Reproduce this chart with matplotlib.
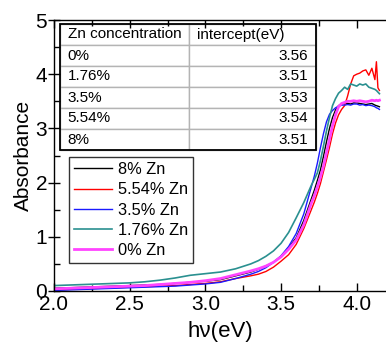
import matplotlib
matplotlib.use("Agg")
import matplotlib.pyplot as plt
from matplotlib.patches import Rectangle
from matplotlib.ticker import MultipleLocator, FormatStrFormatter

plt.rcParams['font.family'] = ['Liberation Sans', 'DejaVu Sans']

# ---- data ----
energy = [2.0, 2.1, 2.2, 2.3, 2.4, 2.5, 2.6, 2.7, 2.8, 2.9, 3.0, 3.1, 3.2, 3.3, 3.35,
          3.4, 3.45, 3.5, 3.55, 3.6, 3.65, 3.7, 3.72, 3.74, 3.76, 3.78, 3.8, 3.82,
          3.84, 3.86, 3.88, 3.9, 3.92, 3.94, 3.96, 3.98, 4.0, 4.02, 4.04, 4.06,
          4.08, 4.1, 4.12, 4.13, 4.14, 4.15]

abs_8 = [0.05, 0.06, 0.07, 0.08, 0.09, 0.10, 0.11, 0.12, 0.14, 0.16, 0.18, 0.21, 0.28,
         0.35, 0.40, 0.46, 0.53, 0.64, 0.80, 0.98, 1.30, 1.70, 1.86, 2.04, 2.23, 2.48,
         2.75, 3.00, 3.20, 3.34, 3.42, 3.45, 3.46, 3.46, 3.45, 3.47, 3.47, 3.46, 3.45,
         3.44, 3.45, 3.46, 3.43, 3.42, 3.41, 3.40]
abs_554 = [0.02, 0.03, 0.04, 0.05, 0.06, 0.07, 0.08, 0.09, 0.10, 0.12, 0.14, 0.17, 0.23,
           0.28, 0.31, 0.36, 0.44, 0.55, 0.67, 0.86, 1.15, 1.50, 1.64, 1.80, 1.98, 2.20,
           2.42, 2.65, 2.90, 3.10, 3.25, 3.35, 3.42, 3.60, 3.82, 3.97, 4.00, 4.02, 4.06,
           4.08, 3.98, 4.11, 3.90, 4.23, 3.75, 3.70]
abs_35 = [0.01, 0.02, 0.03, 0.04, 0.05, 0.06, 0.07, 0.08, 0.09, 0.11, 0.13, 0.16, 0.23,
          0.31, 0.36, 0.43, 0.53, 0.65, 0.82, 1.06, 1.42, 1.92, 2.12, 2.36, 2.64, 2.90,
          3.12, 3.26, 3.33, 3.38, 3.41, 3.43, 3.43, 3.44, 3.43, 3.45, 3.45, 3.43, 3.44,
          3.42, 3.43, 3.42, 3.40, 3.38, 3.37, 3.35]
abs_176 = [0.10, 0.11, 0.12, 0.13, 0.14, 0.15, 0.17, 0.20, 0.24, 0.29, 0.32, 0.35, 0.41,
           0.50, 0.56, 0.64, 0.74, 0.88, 1.08, 1.35, 1.63, 1.95, 2.06, 2.18, 2.40, 2.67,
           2.95, 3.20, 3.42, 3.55, 3.65, 3.70, 3.76, 3.72, 3.82, 3.80, 3.78, 3.82, 3.80,
           3.82, 3.76, 3.74, 3.72, 3.70, 3.67, 3.64]
abs_0 = [0.04, 0.05, 0.06, 0.07, 0.08, 0.09, 0.10, 0.12, 0.14, 0.16, 0.19, 0.23, 0.30,
         0.37, 0.41, 0.46, 0.53, 0.63, 0.77, 0.94, 1.22, 1.62, 1.76, 1.92, 2.10, 2.30,
         2.55, 2.80, 3.05, 3.25, 3.40, 3.46, 3.48, 3.50, 3.50, 3.51, 3.50, 3.51, 3.50,
         3.49, 3.50, 3.52, 3.51, 3.52, 3.51, 3.52]

series_labels = ["8% Zn", "5.54% Zn", "3.5% Zn", "1.76% Zn", "0% Zn"]
series_values = [abs_8, abs_554, abs_35, abs_176, abs_0]
series_colors = ["#000000", "#ff0000", "#1a1aff", "#2a9090", "#ff44ff"]
series_widths = [1.0, 1.0, 1.0, 1.2, 2.0]

table_header = ["Zn concentration", "intercept(eV)"]
table_conc = ["0%", "1.76%", "3.5%", "5.54%", "8%"]
table_intercept = ["3.56", "3.51", "3.53", "3.54", "3.51"]

# ---- figure ----
fig = plt.figure(figsize=(3.86, 3.42), dpi=100)
ax = fig.add_axes([54 / 386, 51 / 342, 333 / 386, 271 / 342])

for lab, vals, col, lw in zip(series_labels, series_values, series_colors, series_widths):
    ax.plot(energy, vals, color=col, lw=lw, label=lab)

ax.set_xlim(2.0, 4.2)
ax.set_ylim(0, 5)
ax.xaxis.set_major_locator(MultipleLocator(0.5))
ax.xaxis.set_minor_locator(MultipleLocator(0.25))
ax.yaxis.set_major_locator(MultipleLocator(1))
ax.yaxis.set_minor_locator(MultipleLocator(0.5))
ax.xaxis.set_major_formatter(FormatStrFormatter('%.1f'))
ax.tick_params(axis='x', which='major', direction='in', length=6, width=1,
               labelsize=15, top=True, pad=3)
ax.tick_params(axis='x', which='minor', direction='in', length=4, width=1, top=True)
ax.tick_params(axis='y', which='major', direction='inout', length=8, width=1,
               labelsize=15, pad=1)
ax.tick_params(axis='y', which='minor', direction='in', length=4, width=1)
for s in ax.spines.values():
    s.set_linewidth(1.0)

ax.set_xlabel("hν(eV)", fontsize=16, labelpad=5)
ax.set_ylabel("Absorbance", fontsize=15, labelpad=2)

# legend
leg = ax.legend(loc='upper left', bbox_to_anchor=(0.045, 0.494), borderaxespad=0,
                fontsize=11.8, frameon=True, fancybox=False, edgecolor='black',
                handlelength=2.3, handletextpad=0.4, labelspacing=0.32,
                borderpad=0.3)
leg.get_frame().set_linewidth(1.0)

# table
tbl_x0, tbl_x1 = (60 - 54) / 333, (316 - 54) / 333
tbl_y1, tbl_y0 = (291 - 24) / 271, (291 - 150) / 271
cell_text = [table_header] + [[c, v] for c, v in zip(table_conc, table_intercept)]
tbl = ax.table(cellText=cell_text, cellLoc='left',
               bbox=[tbl_x0, tbl_y0, tbl_x1 - tbl_x0, tbl_y1 - tbl_y0],
               colWidths=[0.504, 0.496])
tbl.auto_set_font_size(False)
for (r, c), cell in tbl.get_celld().items():
    cell.set_edgecolor('#b4b4b4')
    cell.set_linewidth(1.0)
    cell.set_facecolor('white')
    cell.get_text().set_fontsize(11)
    cell.PAD = 0.06
    if c == 1 and r > 0:
        cell.get_text().set_horizontalalignment('right')
        cell._loc = 'right'
ax.add_patch(Rectangle((tbl_x0, tbl_y0), tbl_x1 - tbl_x0, tbl_y1 - tbl_y0,
                       transform=ax.transAxes, fill=False, edgecolor='black',
                       lw=1.3, zorder=10))

fig.savefig("out.png", dpi=100)
